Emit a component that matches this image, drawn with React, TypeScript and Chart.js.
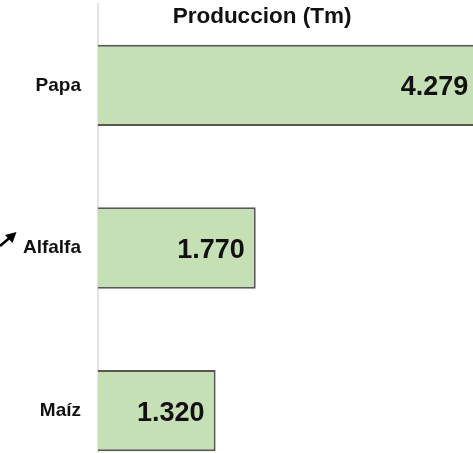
import React, { useEffect, useRef } from "react";
import { Chart, registerables } from "chart.js";

Chart.register(...registerables);

const categories: string[] = ["Papa", "Alfalfa", "Maíz"];
const produccion: number[] = [4279, 1770, 1320];
const chartTitle = "Produccion (Tm)";

const FONT = "'Liberation Sans', Arial, sans-serif";

function fmt(v: number): string {
  const s = Math.round(v).toString();
  return s.replace(/\B(?=(\d{3})+(?!\d))/g, ".");
}

const valueLabels = {
  id: "valueLabels",
  afterDatasetsDraw(chart: any) {
    const ctx = chart.ctx;
    const meta = chart.getDatasetMeta(0);
    ctx.save();
    ctx.font = `bold 27px ${FONT}`;
    ctx.fillStyle = "#111";
    ctx.textAlign = "right";
    ctx.textBaseline = "alphabetic";
    meta.data.forEach((bar: any, i: number) => {
      const v = chart.data.datasets[0].data[i] as number;
      ctx.fillText(fmt(v), bar.x - 11, bar.y + 10);
    });
    ctx.restore();
  },
};

const overlayTitle = {
  id: "overlayTitle",
  afterDraw(chart: any) {
    const ctx = chart.ctx;
    ctx.save();
    ctx.font = `bold 22.5px ${FONT}`;
    ctx.fillStyle = "#111";
    ctx.textAlign = "center";
    ctx.textBaseline = "alphabetic";
    ctx.fillText(chartTitle, chart.width / 2, chart.chartArea.top + 19);
    // small stray arrow annotation at left
    ctx.strokeStyle = "#000";
    ctx.fillStyle = "#000";
    ctx.lineWidth = 2.5;
    ctx.beginPath();
    ctx.moveTo(0, 246);
    ctx.lineTo(10, 237.5);
    ctx.stroke();
    ctx.beginPath();
    ctx.moveTo(16.5, 232);
    ctx.lineTo(5, 235);
    ctx.lineTo(12.5, 243);
    ctx.closePath();
    ctx.fill();
    ctx.restore();
  },
};

export default function App() {
  const ref = useRef<HTMLCanvasElement | null>(null);
  useEffect(() => {
    if (!ref.current) return;
    const chart = new Chart(ref.current, {
      type: "bar",
      data: {
        labels: categories,
        datasets: [
          {
            data: produccion,
            backgroundColor: "#c5e0b4",
            borderColor: "#585858",
            borderWidth: 2,
            borderSkipped: "start",
            categoryPercentage: 1,
            barPercentage: 0.5,
          },
        ],
      },
      options: {
        indexAxis: "y",
        animation: false,
        responsive: false,
        devicePixelRatio: 1,
        layout: { padding: { top: 4, right: 25, bottom: 0, left: 0 } },
        plugins: {
          legend: { display: false },
          title: { display: false },
          tooltip: { enabled: false },
        },
        scales: {
          x: {
            display: false,
            min: 0,
            max: 4500,
          },
          y: {
            afterFit: (scale: any) => {
              scale.width = 98;
              scale.paddingTop = 0;
              scale.paddingBottom = 0;
            },
            grid: { display: false, drawTicks: false },
            border: { display: true, color: "#e3e3e3", width: 2 },
            ticks: {
              padding: 17,
              color: "#111",
              font: { family: FONT, weight: "bold", size: 19 },
            },
          },
        },
      },
      plugins: [valueLabels, overlayTitle],
    });
    return () => chart.destroy();
  }, []);

  return (
    <div
      style={{
        position: "fixed",
        left: 0,
        top: 0,
        width: 473,
        height: 453,
        overflow: "hidden",
        background: "#fff",
      }}
    >
      <canvas ref={ref} width={524} height={492} style={{ display: "block" }} />
    </div>
  );
}
